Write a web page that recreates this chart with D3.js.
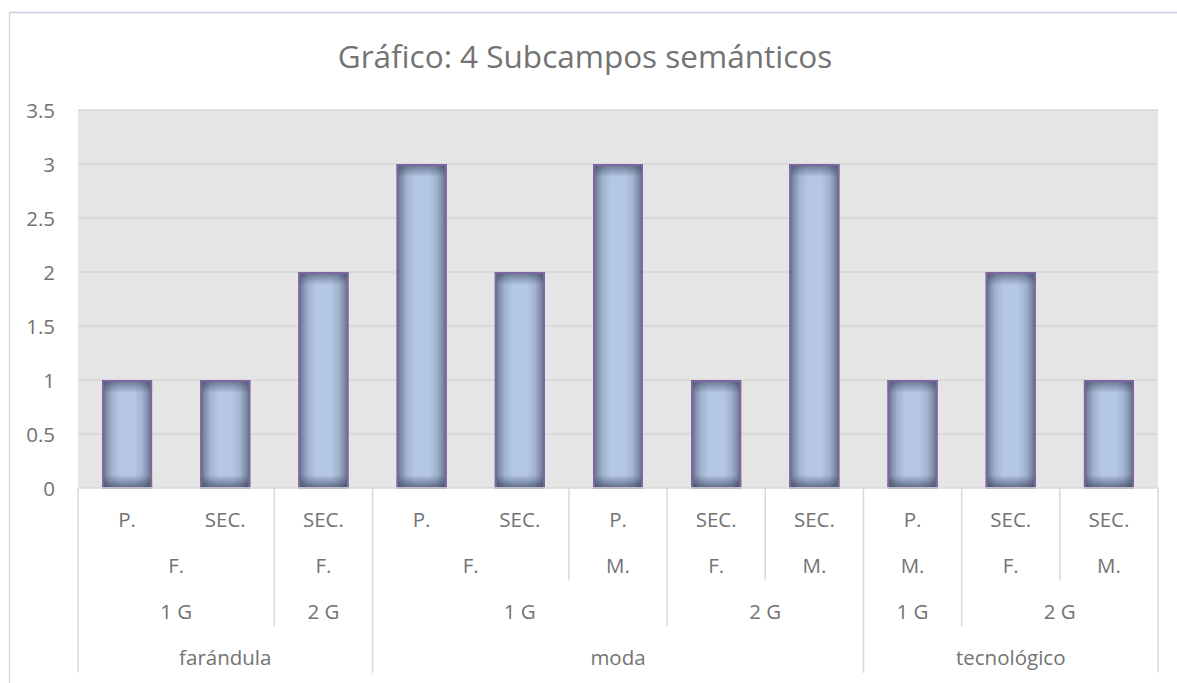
<!DOCTYPE html>
<html>
<head>
<meta charset="utf-8">
<script src="https://cdnjs.cloudflare.com/ajax/libs/d3/7.8.5/d3.min.js"></script>
<style>
  body { margin: 0; background: #fff; }
  text { font-family: "Open Sans", sans-serif; fill: #737373; }
</style>
</head>
<body>
<div id="vis"></div>
<script>
// category levels, innermost first
var tipo = ["P.", "SEC.", "SEC.", "P.", "SEC.", "P.", "SEC.", "SEC.", "P.", "SEC.", "SEC."];
var genero = ["F.", "F.", "F.", "F.", "F.", "M.", "F.", "M.", "M.", "F.", "M."];
var grado = ["1 G", "1 G", "2 G", "1 G", "1 G", "1 G", "2 G", "2 G", "1 G", "2 G", "2 G"];
var campo = ["farándula", "farándula", "farándula", "moda", "moda", "moda", "moda", "moda", "tecnológico", "tecnológico", "tecnológico"];
var valores = [1, 1, 2, 3, 2, 3, 1, 3, 1, 2, 1];
var yTicks = [0, 0.5, 1, 1.5, 2, 2.5, 3, 3.5];
var titulo = "Gráfico: 4 Subcampos semánticos";

var W = 1177, H = 683;
var plot = { left: 78, right: 1158, top: 110, bottom: 488 };
var rowH = 46.2;

var svg = d3.select("#vis").append("svg")
  .attr("width", W).attr("height", H);

// bar shading: dark sides, dark top and bottom
var defs = svg.append("defs");
var hg = defs.append("linearGradient").attr("id", "sides")
  .attr("x1", 0).attr("x2", 1).attr("y1", 0).attr("y2", 0);
[[0, "#5a667b"], [0.08, "#7e8ca6"], [0.2, "#a2b3d0"], [0.36, "#b4c7e7"],
 [0.64, "#b4c7e7"], [0.8, "#a2b3d0"], [0.92, "#7e8ca6"], [1, "#5a667b"]]
  .forEach(s => hg.append("stop").attr("offset", s[0]).attr("stop-color", s[1]));
var tg = defs.append("linearGradient").attr("id", "topshade")
  .attr("x1", 0).attr("x2", 0).attr("y1", 0).attr("y2", 1);
tg.append("stop").attr("offset", 0).attr("stop-color", "#2c3850").attr("stop-opacity", 0.6);
tg.append("stop").attr("offset", 1).attr("stop-color", "#2c3850").attr("stop-opacity", 0);
var bg = defs.append("linearGradient").attr("id", "botshade")
  .attr("x1", 0).attr("x2", 0).attr("y1", 1).attr("y2", 0);
bg.append("stop").attr("offset", 0).attr("stop-color", "#2c3850").attr("stop-opacity", 0.65);
bg.append("stop").attr("offset", 1).attr("stop-color", "#2c3850").attr("stop-opacity", 0);

// chart frame
svg.append("line").attr("x1", 9).attr("x2", W).attr("y1", 12.5).attr("y2", 12.5)
  .attr("stroke", "#c7cee5").attr("stroke-width", 1.5);
svg.append("line").attr("x1", 9.5).attr("x2", 9.5).attr("y1", 12).attr("y2", H)
  .attr("stroke", "#d9d9d9").attr("stroke-width", 1.5);

svg.append("text")
  .attr("x", 585).attr("y", 68)
  .attr("text-anchor", "middle")
  .style("font-size", "31.5px")
  .text(titulo);

var idx = d3.range(valores.length);
var x = d3.scaleBand().domain(idx).range([plot.left, plot.right]).paddingInner(0).paddingOuter(0);
var y = d3.scaleLinear().domain([0, 3.5]).range([plot.bottom, plot.top]);

// plot area
svg.append("rect")
  .attr("x", plot.left).attr("y", plot.top)
  .attr("width", plot.right - plot.left).attr("height", plot.bottom - plot.top)
  .attr("fill", "#e5e5e5");

svg.append("g").selectAll("line").data(yTicks.slice(1)).join("line")
  .attr("x1", plot.left).attr("x2", plot.right)
  .attr("y1", d => y(d)).attr("y2", d => y(d))
  .attr("stroke", "#d5d5d5").attr("stroke-width", 1.5);

// y axis labels
var yAxis = svg.append("g")
  .attr("transform", "translate(" + (plot.left - 23) + ",0)")
  .call(d3.axisLeft(y).tickValues(yTicks).tickSize(0).tickPadding(0).tickFormat(d3.format("")));
yAxis.select(".domain").remove();
yAxis.selectAll("text").style("font-size", "20.5px").attr("fill", "#737373").attr("dy", "0.38em");

// bars
var bw = 50, shade = 13;
var bx = i => x(i) + x.bandwidth() / 2 - bw / 2;
var bars = svg.append("g");
bars.selectAll("rect.fill").data(idx).join("rect")
  .attr("class", "fill")
  .attr("x", bx)
  .attr("y", i => y(valores[i]))
  .attr("width", bw)
  .attr("height", i => y(0) - y(valores[i]))
  .attr("fill", "url(#sides)");
bars.selectAll("rect.top").data(idx).join("rect")
  .attr("class", "top")
  .attr("x", bx)
  .attr("y", i => y(valores[i]))
  .attr("width", bw)
  .attr("height", shade)
  .attr("fill", "url(#topshade)");
bars.selectAll("rect.bot").data(idx).join("rect")
  .attr("class", "bot")
  .attr("x", bx)
  .attr("y", y(0) - shade)
  .attr("width", bw)
  .attr("height", shade)
  .attr("fill", "url(#botshade)");
bars.selectAll("rect.edge").data(idx).join("rect")
  .attr("class", "edge")
  .attr("x", i => bx(i) + 1)
  .attr("y", i => y(valores[i]) + 1)
  .attr("width", bw - 2)
  .attr("height", i => y(0) - y(valores[i]) - 1)
  .attr("fill", "none")
  .attr("stroke", "#8065a3")
  .attr("stroke-width", 2);

// category axis
var axisG = svg.append("g");
axisG.append("line")
  .attr("x1", plot.left).attr("x2", plot.right)
  .attr("y1", plot.bottom).attr("y2", plot.bottom)
  .attr("stroke", "#d9d9d9").attr("stroke-width", 1.5);

var levels = [tipo, genero, grado, campo];

// depth of separator line between i-1 and i
function depth(i) {
  if (i === 0 || i === idx.length) return 4;
  var key = function(lv, k) { return levels.slice(lv).map(a => a[k]).join("|"); };
  for (var lv = 3; lv >= 1; lv--) {
    if (key(lv, i) !== key(lv, i - 1)) return lv + 1;
  }
  return 0;
}

var seps = d3.range(idx.length + 1).map(i => ({ i: i, d: depth(i) })).filter(s => s.d > 0);
axisG.selectAll("line.sep").data(seps).join("line")
  .attr("class", "sep")
  .attr("x1", s => s.i === idx.length ? plot.right : x(s.i))
  .attr("x2", s => s.i === idx.length ? plot.right : x(s.i))
  .attr("y1", plot.bottom)
  .attr("y2", s => plot.bottom + rowH * s.d)
  .attr("stroke", "#d9d9d9").attr("stroke-width", 1.5);

// group labels per level
levels.forEach(function(arr, lv) {
  var groups = [];
  idx.forEach(function(i) {
    var key = levels.slice(lv).map(a => a[i]).join("|");
    var last = groups[groups.length - 1];
    if (lv > 0 && last && last.key === key) last.end = i;
    else groups.push({ key: key, label: arr[i], start: i, end: i });
  });
  axisG.append("g").selectAll("text").data(groups).join("text")
    .attr("x", g => (x(g.start) + x(g.end) + x.bandwidth()) / 2)
    .attr("y", plot.bottom + rowH * lv + 38.5)
    .attr("text-anchor", "middle")
    .style("font-size", "20.5px")
    .text(g => g.label);
});
</script>
</body>
</html>
